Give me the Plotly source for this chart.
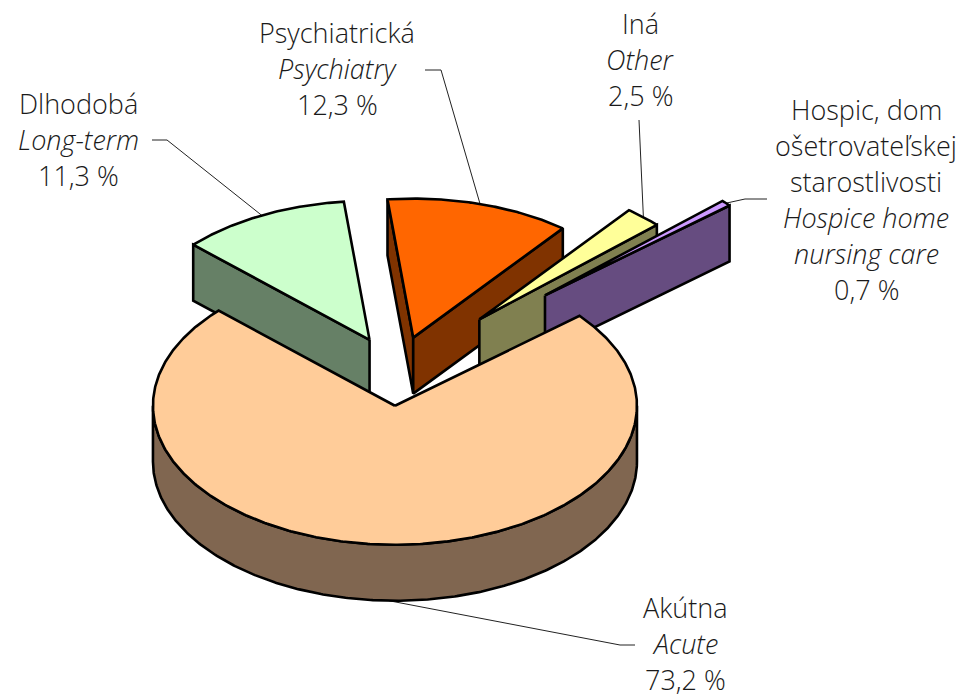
import numpy as np
import plotly.graph_objects as go

# --- data -----------------------------------------------------------------
names_sk = ["Akútna", "Dlhodobá", "Psychiatrická", "Iná", ["Hospic, dom", "ošetrovateľskej", "starostlivosti"]]
names_en = ["Acute", "Long-term", "Psychiatry", "Other", ["Hospice home", "nursing care"]]
values = [73.2, 11.3, 12.3, 2.5, 0.7]
value_labels = ["73,2 %", "11,3 %", "12,3 %", "2,5 %", "0,7 %"]
explode = [0.25, 0.25, 0.25, 0.505, 0.82]
top_colors = ["#FFCC99", "#CCFFCC", "#FF6600", "#FFFF99", "#CC99FF"]
side_colors = ["#806650", "#668066", "#803300", "#808050", "#664C80"]

# --- projection / layout ---------------------------------------------------
CX, CY, RX, RY, DEPTH = 396.5, 371.0, 242.0, 139.0, 56.0
START_ANGLE = 40.3
LW = 2.6
FONT = "Open Sans"
FS = 27
LINE_H = 36
label_x = [685, 78, 337, 640, 866]
label_y = [607, 103, 32, 23, 109]
leader_elbows = [[(620, 645), (635, 645)], [(167, 140), (152, 140)], [(441, 70), (425, 70)],
                 [(639, 120)], [(745, 199), (767, 199)]]
draw_order = [1, 2, 3, 4, 0]

# --- geometry from the values ----------------------------------------------
slices = []
a = START_ANGLE
for v, e in zip(values, explode):
    sweep = v / sum(values) * 360
    a1, a2 = a, a - sweep
    mid = np.radians((a1 + a2) / 2)
    ax = CX + e * RX * np.cos(mid)
    ay = CY - e * RY * np.sin(mid)
    slices.append((a1, a2, ax, ay, mid))
    a = a2


def arc(ax, ay, a1, a2, dz=0.0):
    t = np.radians(np.linspace(a1, a2, max(int(abs(a1 - a2) * 2), 4)))
    return ax + RX * np.cos(t), ay - RY * np.sin(t) + dz


def poly(fig, xs, ys, color):
    fig.add_trace(go.Scatter(x=list(xs), y=list(ys), mode="lines", fill="toself", fillcolor=color,
                             line=dict(color="black", width=LW), hoverinfo="skip", showlegend=False))


fig = go.Figure()

# leader lines, beneath the slices
for i, (a1, a2, ax, ay, mid) in enumerate(slices):
    dz = DEPTH if i == 0 else 0
    x0 = ax + RX * np.cos(mid)
    y0 = ay - RY * np.sin(mid) + dz
    xs = [x0] + [p[0] for p in leader_elbows[i]]
    ys = [y0] + [p[1] for p in leader_elbows[i]]
    fig.add_trace(go.Scatter(x=xs, y=ys, mode="lines", line=dict(color="#222222", width=1),
                             hoverinfo="skip", showlegend=False))

for i in draw_order:
    a1, a2, ax, ay, mid = slices[i]
    side = side_colors[i]
    # radial walls facing the viewer
    for ang, visible in ((a1, np.cos(np.radians(a1)) < 0), (a2, np.cos(np.radians(a2)) > 0)):
        if visible and i != 0:
            ex = ax + RX * np.cos(np.radians(ang))
            ey = ay - RY * np.sin(np.radians(ang))
            poly(fig, [ax, ex, ex, ax, ax], [ay, ey, ey + DEPTH, ay + DEPTH, ay], side)
    # outer wall: the lower half of the ellipse
    lo, hi = max(a2, -180.0), min(a1, 0.0)
    if hi > lo:
        xt, yt = arc(ax, ay, hi, lo)
        xb, yb = arc(ax, ay, lo, hi, DEPTH)
        poly(fig, np.r_[xt, xb, xt[0]], np.r_[yt, yb, yt[0]], side)
    # top face
    xt, yt = arc(ax, ay, a1, a2)
    poly(fig, np.r_[ax, xt, ax], np.r_[ay, yt, ay], top_colors[i])

# labels, one annotation per line
for i in range(len(values)):
    sk = names_sk[i] if isinstance(names_sk[i], list) else [names_sk[i]]
    en = names_en[i] if isinstance(names_en[i], list) else [names_en[i]]
    lines = sk + [f"<i>{t}</i>" for t in en] + [value_labels[i]]
    for j, t in enumerate(lines):
        fig.add_annotation(x=label_x[i], y=label_y[i] + j * LINE_H, text=t, showarrow=False,
                           xanchor="center", yanchor="middle",
                           font=dict(family=FONT, size=FS, color="#1a1a1a", weight=300))

fig.update_layout(width=966, height=697, margin=dict(l=0, r=0, t=0, b=0),
                  paper_bgcolor="white", plot_bgcolor="white", showlegend=False,
                  xaxis=dict(range=[0, 966], visible=False, fixedrange=True),
                  yaxis=dict(range=[697, 0], visible=False, fixedrange=True))
fig.write_html("out.html", config={"displayModeBar": False},
               post_script="document.body.style.margin='0';document.documentElement.style.overflow='hidden';")
